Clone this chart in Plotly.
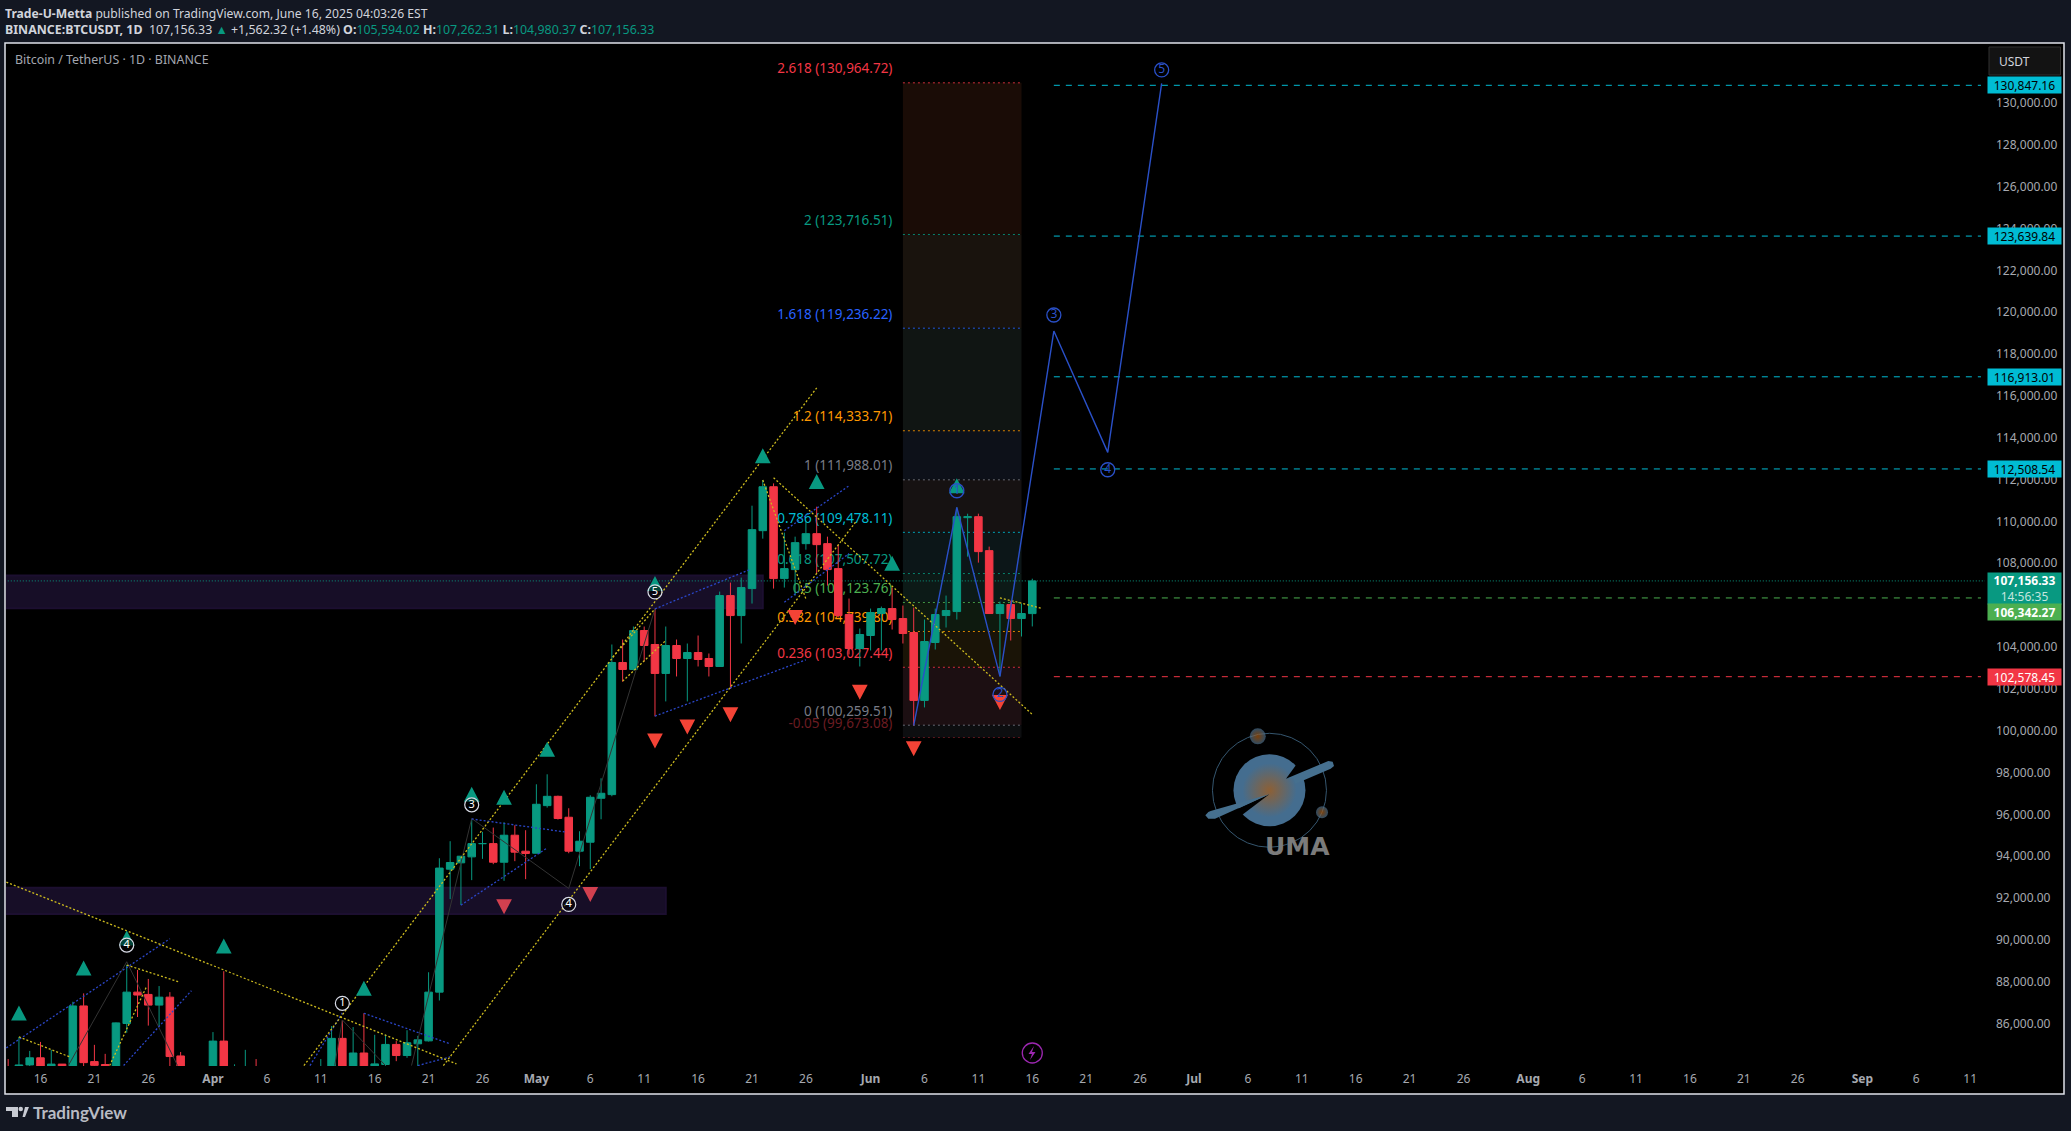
import pandas as pd
import plotly.graph_objects as go

dates = pd.date_range("2025-03-13", "2025-06-16").strftime("%Y-%m-%d").tolist()
opens = [83680,81066,84020,84360,82580,84060,82720,86840,84180,84040,83830,86000,87500,87390,86880,87260,84450,82650,82390,
 82550,85160,82520,83210,83890,83540,78430,79160,76320,82620,79610,83420,85290,83760,84590,83640,84040,85000,84470,85030,85170,87500,93377,93680,93966,94600,94600,93710,95000,94237,
 94140,96416,96860,95860,94237,94666,96766,96941,103257,102923,104785,104117,102733,104069,103448,103735,103448,103067,106455,105500,106790,109558,111658,107267,107697,108938,109415,108938,107744,105549,103926,
 104547,105597,105835,105358,104690,101444,104212,105501,105692,110179,110227,108604,105597,106026,105358,105594.02]
highs = [84300,85360,84690,85120,84740,84060,87040,87440,84980,84550,86050,88800,88560,88130,87790,87500,84640,83530,83940,
 85590,88500,84050,84740,84300,83820,81240,80870,83590,82750,84300,85880,86150,85830,86490,85460,85470,85160,85680,85410,88450,93900,94714,94000,95780,95160,95366,95620,95477,95240,
 97435,97912,96893,96290,95190,96910,97721,104117,104355,104976,104976,105803,104976,104355,104164,104546,103687,106646,107076,107315,110752,111977,111818,109463,109272,109988,110704,109272,108890,106313,104881,
 105835,105931,106838,105979,105883,105310,105835,106456,110672,110370,110370,108795,106170,106217,106074,107262.31]
lows = [79939,80797,83640,81980,82456,81180,82550,83655,83175,83600,83200,85560,86310,85900,85860,83585,81644,81565,81280,
 82430,82320,81210,81660,82380,77150,74510,76240,74620,78460,78970,82790,83030,83680,83600,83110,83740,84200,84360,83950,85140,87100,91946,91660,92853,93870,93616,92820,93760,92900,
 94140,96320,95750,94140,93520,93377,95764,96862,102335,102875,103305,100680,101396,102589,101396,103067,102589,103067,102000,104165,106074,109176,106790,106838,106456,108651,107506,106933,105406,103640,103067,
 103831,103831,104833,104165,100251,101110,103878,104929,105310,108317,108031,105597,102590,104308,104499,104980.37]
closes = [81066,84020,84360,82580,84060,82720,86840,84130,84000,83830,86030,87500,87360,86880,87260,84420,82650,82390,82550,
 85160,82520,83210,83890,83540,78430,79160,76320,82620,79610,83420,85290,83760,84590,83640,84070,85000,84470,85080,85220,87500,93430,93696,93998,94600,94600,93710,95000,94190,94125,
 96480,96860,95800,94237,94714,96814,97005,103257,102923,104785,104069,102733,104069,103448,103735,103400,103067,106455,105500,106837,109606,111658,107267,107744,108986,109415,108890,107697,105501,103926,104594,
 105644,105835,105310,104642,101444,104260,105549,105740,110227,110227,108556,105597,106026,105358,105597,107156.33]

y_ticks = list(range(86000, 132000, 2000))

tick_dates, tick_labels = [], []
month_names = {4: "Apr", 5: "May", 6: "Jun", 7: "Jul", 8: "Aug", 9: "Sep"}
for m in range(3, 10):
    for d in (1, 6, 11, 16, 21, 26):
        if (m == 3 and d < 16) or (m == 9 and d > 11):
            continue
        tick_dates.append(f"2025-{m:02d}-{d:02d}")
        tick_labels.append(f"<b>{month_names[m]}</b>" if d == 1 else str(d))

fib_labels = ["2.618", "2", "1.618", "1.2", "1", "0.786", "0.618", "0.5", "0.382", "0.236", "0", "-0.05"]
fib_prices = [130964.72, 123716.51, 119236.22, 114333.71, 111988.01, 109478.11, 107507.72, 106123.76, 104739.80, 103027.44, 100259.51, 99673.08]
fib_colors = ["#F23645", "#089981", "#2962FF", "#FF9800", "#787B86", "#00BCD4", "#089981", "#4CAF50", "#FF9800", "#F23645", "#787B86", "#6b1c22"]
fib_bands = ["#1a0c06", "#19130d", "#101513", "#0d1119", "#161212", "#0c1618", "#0c1a17", "#0e1a0f", "#1a1407", "#1c0f12", "#0d0e10"]

price_tags = [
    ("130,847.16", 130847.16, "#00BCD4", "#000000"),
    ("123,639.84", 123639.84, "#00BCD4", "#000000"),
    ("116,913.01", 116913.01, "#00BCD4", "#000000"),
    ("112,508.54", 112508.54, "#00BCD4", "#000000"),
    ("102,578.45", 102578.45, "#F23645", "#ffffff"),
]

up_dates = ["2025-03-14","2025-03-20","2025-03-24","2025-04-02","2025-04-15","2025-04-25","2025-04-28","2025-05-02","2025-05-12","2025-05-22","2025-05-27","2025-06-03","2025-06-09"]
up_prices = [86505,88652,90084,89703,87684,96957,96814,99105,107028,113138,111911,108000,111706]
down_dates = ["2025-05-12","2025-05-15","2025-05-19","2025-05-25","2025-05-31","2025-06-05","2025-06-13"]
down_prices = [99501,100170,100762,105406,101840,99139,101349]
zone_down_dates = ["2025-04-28","2025-05-06"]
zone_down_prices = [91578,92170]

yellow_lines = [
    (["2025-03-12 20:00","2025-04-23 14:00"],[92757,84070]),
    (["2025-04-09 10:30","2025-05-27"],[83990,116383]),
    (["2025-04-22 09:00","2025-05-30 17:00"],[83990,110035]),
    (["2025-03-14","2025-03-18 17:00"],[85360,84404]),
    (["2025-03-24","2025-03-28 19:00"],[88795,87998]),
    (["2025-03-22 10:00","2025-03-25 20:00"],[83990,87760]),
    (["2025-05-09","2025-05-13"],[102365,104308]),
    (["2025-05-08 02:00","2025-05-12"],[103510,105820]),
    (["2025-05-22","2025-05-26"],[111978,106298]),
    (["2025-05-23","2025-06-16"],[112088,100776]),
    (["2025-06-13","2025-06-16 21:00"],[106346,105849]),
]
blue_lines = [
    (["2025-03-12 20:00","2025-03-28"],[84834,90051]),
    (["2025-03-23 17:00","2025-03-30"],[83990,87569]),
    (["2025-04-15","2025-04-23"],[86490,85025]),
    (["2025-04-10","2025-04-13"],[83990,86505]),
    (["2025-04-20","2025-04-23"],[83990,84406]),
    (["2025-04-25","2025-05-03 15:00"],[95778,95158]),
    (["2025-04-24","2025-05-02"],[91660,94394]),
    (["2025-05-12","2025-05-20 17:00"],[105821,107682]),
    (["2025-05-12","2025-05-26"],[100695,103387]),
    (["2025-05-24","2025-05-30"],[109558,111706]),
    (["2025-05-24","2025-05-30"],[106136,108460]),
]
zigzag_lines = [
    (["2025-03-18 14:00","2025-03-24","2025-03-28 17:00"],[83990,88953,83990]),
    (["2025-04-12 07:00","2025-04-13","2025-04-17"],[83990,86170,83990]),
    (["2025-04-19 10:00","2025-04-25","2025-05-04","2025-05-12"],[83990,95797,92456,105821]),
]
projection_dates = ["2025-06-05","2025-06-09","2025-06-13","2025-06-18","2025-06-23","2025-06-28"]
projection_prices = [100251,110672,102590,119100,113300,130940]

white_wave_dates = ["2025-03-24","2025-04-13","2025-04-25","2025-05-04","2025-05-12"]
white_wave_prices = [89750,86967,96455,91693,106632]
white_wave_text = ["4","1","3","4","5"]
blue_wave_dates = ["2025-06-09","2025-06-13","2025-06-18","2025-06-23","2025-06-28"]
blue_wave_prices = [111467,101731,119868,112470,131581]
blue_wave_text = ["1","2","3","4","5"]

W, H = 2071, 1131
L, R, T, B = 6, 1985, 43, 1066
PX_PRICE = 47.8           # USDT per pixel on the price axis
HOURS_TRI = 17.5          # triangle half width in hours

def px(x): return (x - L) / (R - L)
def py(y): return 1 - (y - T) / (B - T)

fig = go.Figure()

def pane_rect(x0, y0, x1, y1, fill, line=None, lw=0):
    fig.add_shape(type="rect", xref="paper", yref="paper", x0=px(x0), x1=px(x1), y0=py(y0), y1=py(y1),
                  fillcolor=fill, line=dict(color=line or fill, width=lw), layer="below")

pane_rect(5, 43, 2064, 1094, "#000000", "#dfe2ea", 1.5)

# supply zones
for x0, x1, y0, y1 in [("2025-03-01", "2025-05-22", 105850, 107410), ("2025-03-01", "2025-05-13", 91230, 92485)]:
    fig.add_shape(type="rect", x0=x0, x1=x1, y0=y0, y1=y1, fillcolor="#170e27", line=dict(color="#1c0f30", width=2), layer="below")

# fib bands, lines, labels
fib_x0, fib_x1 = "2025-06-04", "2025-06-15"
for i, band in enumerate(fib_bands):
    fig.add_shape(type="rect", x0=fib_x0, x1=fib_x1, y0=fib_prices[i + 1], y1=fib_prices[i],
                  fillcolor=band, line=dict(width=0), layer="below")
for lab, p, c in zip(fib_labels, fib_prices, fib_colors):
    fig.add_shape(type="line", x0=fib_x0, x1=fib_x1, y0=p, y1=p, line=dict(color=c, width=1, dash="2px,3px"), opacity=0.85, layer="below")
    fig.add_shape(type="rect", x0="2025-04-25", x1="2025-06-03 14:00", y0=p, y1=p + 28 * PX_PRICE,
                  line=dict(width=0), fillcolor="rgba(0,0,0,0)", layer="below",
                  label=dict(text=f"{lab} ({p:,.2f})", textposition="middle right",
                             font=dict(family="Noto Sans", size=13.5, color=c)))

# last price line and dashed target lines
fig.add_shape(type="line", x0="2025-03-01", x1="2025-09-13", y0=closes[-1], y1=closes[-1],
              line=dict(color="#089981", width=1, dash="1px,2px"), layer="below")
for _, p, c, _t in price_tags:
    fig.add_shape(type="line", x0="2025-06-18", x1="2025-09-12", y0=p, y1=p, line=dict(color=c, width=1, dash="6px,6px"), layer="below")
fig.add_shape(type="line", x0="2025-06-18", x1="2025-09-12", y0=106342.27, y1=106342.27, line=dict(color="#4CAF50", width=1, dash="6px,6px"), layer="below")

fig.add_trace(go.Candlestick(x=dates, open=opens, high=highs, low=lows, close=closes,
    increasing=dict(line=dict(color="#089981", width=1), fillcolor="#089981"),
    decreasing=dict(line=dict(color="#F23645", width=1), fillcolor="#F23645"),
    whiskerwidth=0, showlegend=False, hoverinfo="skip"))

def line_group(items, color, width, dash, opacity=1):
    xs, ys = [], []
    for a, b in items:
        xs += a + [None]
        ys += b + [None]
    fig.add_trace(go.Scatter(x=xs, y=ys, mode="lines", line=dict(color=color, width=width, dash=dash),
                             opacity=opacity, showlegend=False, hoverinfo="skip"))

line_group(zigzag_lines, "#333333", 1, "solid")
line_group(blue_lines, "#2a46c8", 1.3, "2px,2px")
line_group(yellow_lines, "#cdbb1e", 1.3, "2px,2px")
line_group([(projection_dates, projection_prices)], "#2a50c8", 1.4, "solid")

def triangles(ds, ps, color, up):
    xs, ys = [], []
    hh = 7.5 * PX_PRICE
    for d, p in zip(ds, ps):
        t = pd.Timestamp(d)
        a = (t - pd.Timedelta(hours=HOURS_TRI)).strftime("%Y-%m-%d %H:%M")
        b = (t + pd.Timedelta(hours=HOURS_TRI)).strftime("%Y-%m-%d %H:%M")
        s = 1 if up else -1
        xs += [a, b, d, a, None]
        ys += [p - s * hh, p - s * hh, p + s * hh, p - s * hh, None]
    fig.add_trace(go.Scatter(x=xs, y=ys, mode="lines", fill="toself", fillcolor=color,
                             line=dict(width=0, color=color), showlegend=False, hoverinfo="skip"))

triangles(up_dates, up_prices, "#089981", True)
triangles(down_dates, down_prices, "#F44336", False)
triangles(zone_down_dates, zone_down_prices, "#d2404f", False)

fig.add_trace(go.Scatter(x=white_wave_dates, y=white_wave_prices, mode="markers+text", text=white_wave_text,
    textposition="middle center", textfont=dict(family="Noto Sans", size=11, color="#ffffff"),
    marker=dict(symbol="circle", size=14, color="rgba(0,0,0,0.55)", line=dict(color="#d8dbe6", width=1.2)),
    showlegend=False, hoverinfo="skip"))
fig.add_trace(go.Scatter(x=blue_wave_dates, y=blue_wave_prices, mode="markers+text", text=blue_wave_text,
    textposition="middle center", textfont=dict(family="Noto Sans", size=12, color="#2a50c8"),
    marker=dict(symbol="circle-open", size=14, color="#2a50c8", line=dict(color="#2a50c8", width=1.3)),
    showlegend=False, hoverinfo="skip"))

# lightning marker
fig.add_trace(go.Scatter(x=["2025-06-16"], y=[84590], mode="markers",
    marker=dict(symbol="circle-open", size=20, color="#9c27b0", line=dict(color="#9c27b0", width=1.3)),
    showlegend=False, hoverinfo="skip"))
bolt = [(1034, 1046), (1028.5, 1054), (1032, 1054), (1030, 1060), (1035.5, 1052), (1032, 1052)]
fig.add_shape(type="path", xref="paper", yref="paper",
              path="M " + " L ".join(f"{px(a):.5f},{py(b):.5f}" for a, b in bolt) + " Z",
              fillcolor="#9c27b0", line=dict(width=0), layer="above")

# UMA watermark
fig.add_trace(go.Scatter(x=["2025-07-08"], y=[97148], mode="markers",
    marker=dict(symbol="circle-open", size=114, color="#35566f", line=dict(color="#35566f", width=1)), showlegend=False, hoverinfo="skip"))
fig.add_trace(go.Scatter(x=["2025-07-08"], y=[97148], mode="markers",
    marker=dict(size=72, color="#446d8f", line=dict(width=0)), showlegend=False, hoverinfo="skip"))
fig.add_trace(go.Scatter(x=["2025-07-08", "2025-07-06 22:00", "2025-07-12 21:00"], y=[97148, 99726, 96098], mode="markers",
    marker=dict(size=[54, 16, 12], color="#446d8f", gradient=dict(type="radial", color="#ad5a0e"), line=dict(width=0)),
    showlegend=False, hoverinfo="skip"))

def logo_path(points, fill):
    path = "M " + " L ".join(f"{px(1180 + a / 3):.5f},{py(710 + b / 3):.5f}" for a, b in points) + " Z"
    fig.add_shape(type="path", xref="paper", yref="paper", path=path, fillcolor=fill, line=dict(width=0), layer="above")

logo_path([(268, 253), (118, 322), (190, 312)], "#000000")
logo_path([(318, 206), (352, 160), (385, 190)], "#000000")
logo_path([(85, 306), (92, 303), (268, 253), (105, 326), (85, 326), (76, 316)], "#46708f")
logo_path([(318, 206), (445, 153), (458, 155), (462, 168), (452, 176), (345, 222), (340, 205)], "#46708f")

# USDT button
fig.add_shape(type="rect", xref="paper", yref="paper", x0=px(1989), x1=px(2060.5), y0=py(47), y1=py(75),
              fillcolor="#131313", line=dict(color="#303030", width=1), layer="below")

# TradingView logo
logo_bits = [[(6, 1107), (18, 1107), (18, 1117), (12, 1117), (12, 1111), (6, 1111)],
             [(22.5, 1117), (25, 1107), (29, 1107), (25, 1117)]]
for pts in logo_bits:
    path = "M " + " L ".join(f"{px(a):.5f},{py(b):.5f}" for a, b in pts) + " Z"
    fig.add_shape(type="path", xref="paper", yref="paper", path=path, fillcolor="#c8cbd3", line=dict(width=0), layer="above")
fig.add_shape(type="circle", xref="paper", yref="paper", x0=px(18.5), x1=px(23), y0=py(1106.8), y1=py(1111.3),
              fillcolor="#c8cbd3", line=dict(width=0), layer="above")

def note(text, x, y, size=12, color="#d1d4dc", family="Noto Sans", anchor="left"):
    fig.add_annotation(text=text, xref="paper", yref="paper", x=px(x), y=py(y), xanchor=anchor, yanchor="middle",
                       showarrow=False, font=dict(family=family, size=size, color=color), align="left", borderpad=0, borderwidth=0)

TEAL = "#089981"
note("<b>Trade-U-Metta</b> published on TradingView.com, June 16, 2025 04:03:26 EST", 5, 13, 12.15, "#d1d4dc")
line2 = (f"<b>BINANCE:BTCUSDT, 1D</b>  107,156.33 <span style='color:{TEAL}'>▲</span> +1,562.32 (+1.48%) "
         f"<b>O:</b><span style='color:{TEAL}'>105,594.02</span> <b>H:</b><span style='color:{TEAL}'>107,262.31</span> "
         f"<b>L:</b><span style='color:{TEAL}'>104,980.37</span> <b>C:</b><span style='color:{TEAL}'>107,156.33</span>")
note(line2, 5, 29.5, 12.4, "#d1d4dc")
note("Bitcoin / TetherUS · 1D · BINANCE", 15, 60, 12.4, "#a3a6af")
note("USDT", 1999, 61.5, 12, "#d1d4dc")
note("<b>TradingView</b>", 33, 1112, 17, "#b8bbc3", "Lato")
note("<b>UMA</b>", 1297, 846, 25, "#7b7b7b", "DejaVu Sans", "center")

def tag(text, price, fill, color, yshift=0, h=16, size=12):
    fig.add_annotation(text=text, xref="paper", yref="y", x=px(1987), y=price, xanchor="left", yanchor="middle", yshift=yshift,
                       showarrow=False, width=73, height=h, bgcolor=fill, borderpad=0, align="center",
                       font=dict(family="Noto Sans", size=size, color=color))

for t, p, c, fc in price_tags:
    tag(t, p, c, fc)
tag("<b>107,156.33</b><br><span style='color:#c4e6df'>14:56:35</span>", closes[-1], "#089981", "#ffffff", yshift=-7.5, h=31)
tag("<b>106,342.27</b>", 106342.27, "#4CAF50", "#ffffff", yshift=-14)

fig.update_layout(
    width=W, height=H, autosize=False, margin=dict(l=L, r=W - R, t=T, b=H - B, pad=0),
    paper_bgcolor="#131722", plot_bgcolor="rgba(0,0,0,0)", showlegend=False, hovermode=False,
    xaxis=dict(type="date", range=["2025-03-12 19:12", "2025-09-12 09:00"], rangeslider=dict(visible=False),
               tickmode="array", tickvals=tick_dates, ticktext=tick_labels, showgrid=False, zeroline=False,
               ticks="", showline=False, ticklabelstandoff=4, tickangle=0,
               tickfont=dict(family="Noto Sans", size=12, color="#a6a9b0")),
    yaxis=dict(side="right", range=[83969, 132869], tickmode="array", tickvals=y_ticks,
               ticktext=[f"{v:,.2f}" for v in y_ticks], showgrid=False, zeroline=False, ticks="", showline=False,
               ticklabelstandoff=10, tickfont=dict(family="Noto Sans", size=12, color="#a6a9b0")),
    boxgap=0.3, boxgroupgap=0,
)

fig.write_html("out.html", config={"displayModeBar": False},
               post_script="document.body.style.margin='0';document.body.style.background='#131722';")
